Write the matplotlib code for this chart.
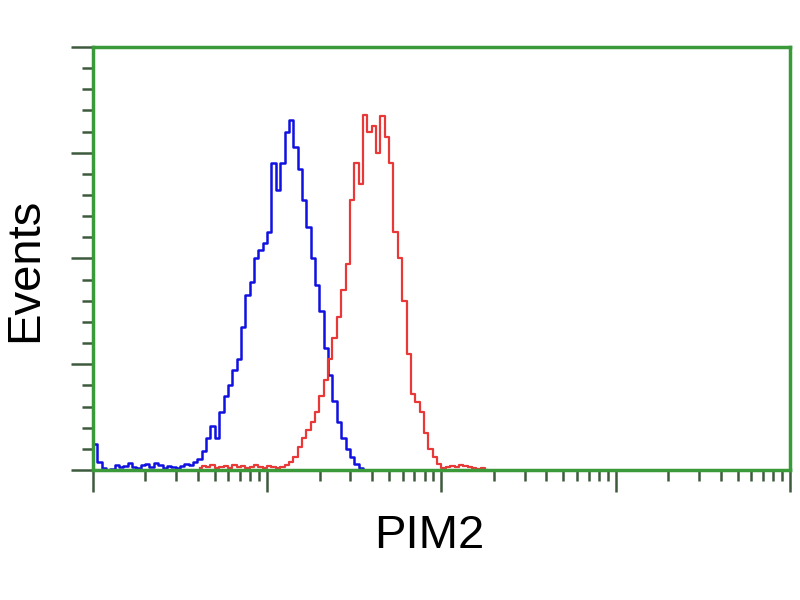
import numpy as np
import matplotlib
matplotlib.use("Agg")
import matplotlib.pyplot as plt

# histogram channels: 40 bins per decade, values are event counts
bin_width = 0.025
blue_start = 0
blue_counts = [25, 8, 2, 0, 1, 5, 3, 4, 7, 3,
               2, 5, 6, 3, 7, 5, 2, 4, 3, 2,
               4, 6, 5, 8, 10, 18, 30, 42, 30, 55,
               70, 80, 95, 105, 135, 165, 178, 200, 208, 215,
               225, 290, 265, 290, 320, 331, 305, 285, 255, 230,
               200, 175, 150, 115, 90, 65, 45, 30, 20, 12,
               6, 2, 0]

red_start = 24
red_counts = [2, 4, 3, 5, 2, 3, 4, 2, 5, 3,
              4, 2, 3, 5, 3, 2, 4, 3, 2, 3,
              5, 8, 12, 22, 30, 38, 45, 55, 70, 85,
              105, 125, 145, 170, 195, 255, 290, 270, 336, 320,
              325, 300, 335, 315, 290, 225, 200, 160, 110, 72,
              64, 55, 35, 20, 12, 6, 2, 3, 4, 3,
              5, 4, 3, 2, 1, 2, 0]

x_label = "PIM2"
y_label = "Events"

green = "#3a9a3a"

fig = plt.figure(figsize=(8, 6), dpi=100)
ax = fig.add_axes([0.116, 0.2167, 0.8715, 0.705])

def centers(start, counts):
    idx = np.arange(start, start + len(counts))
    return 10 ** ((idx + 0.5) * bin_width)

ax.plot(centers(blue_start, blue_counts), blue_counts, drawstyle="steps-mid",
        color="#1010e0", lw=1.8)
ax.plot(centers(red_start, red_counts), red_counts, drawstyle="steps-mid",
        color="#e83838", lw=1.6)

ax.set_xscale("log")
ax.set_xlim(1, 1e4)
ax.set_ylim(0, 400)

for s in ax.spines.values():
    s.set_color(green)
    s.set_linewidth(2.5)

ax.set_yticks(np.arange(0, 401, 100))
ax.set_yticks(np.arange(0, 401, 20), minor=True)
ax.set_yticklabels([])
ax.xaxis.set_minor_formatter(matplotlib.ticker.NullFormatter())
ax.set_xticklabels([])
ax.tick_params(which="major", length=16, width=1.8, color="#3d5a3d")
ax.tick_params(which="minor", length=8, width=1.8, color="#3d5a3d")

ax.set_xlabel(x_label, family=["Liberation Sans", "DejaVu Sans"], fontsize=34)
ax.set_ylabel(y_label, family=["Liberation Sans", "DejaVu Sans"], fontsize=34)
ax.xaxis.set_label_coords(0.483, -0.105)
ax.yaxis.set_label_coords(-0.066, 0.473)

fig.savefig("out.png", dpi=100)
